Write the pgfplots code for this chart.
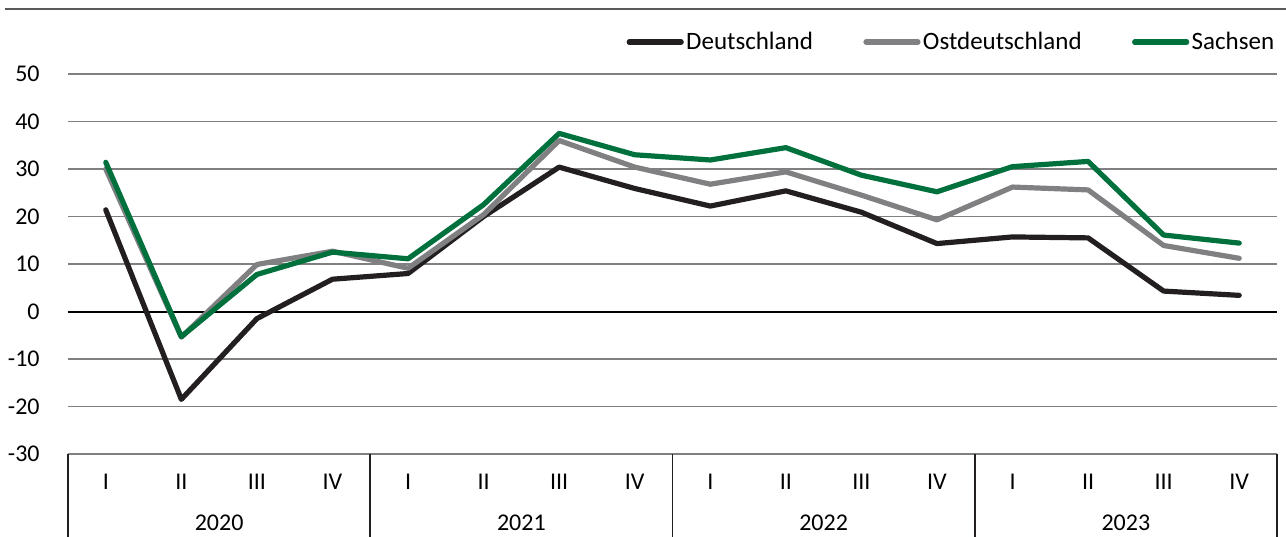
\documentclass[border=0pt]{standalone}
\usepackage{fontspec}
\setmainfont{Carlito}
\usepackage{pgfplots}
\usepackage{pgfplotstable}
\pgfplotsset{compat=1.18}
\definecolor{cD}{HTML}{231F20}
\definecolor{cO}{HTML}{808083}
\definecolor{cS}{HTML}{00703C}
\definecolor{gridc}{HTML}{808080}
\pgfplotstableread{
x D O S
0 21.4 30.0 31.4
1 -18.5 -5.4 -5.3
2 -1.5 9.9 7.8
3 6.8 12.7 12.5
4 8.0 9.1 11.1
5 20.0 20.4 22.5
6 30.4 36.0 37.5
7 25.9 30.4 33.0
8 22.2 26.8 31.9
9 25.4 29.4 34.5
10 20.9 24.5 28.7
11 14.3 19.3 25.2
12 15.7 26.2 30.5
13 15.5 25.6 31.6
14 4.3 13.9 16.1
15 3.4 11.2 14.4
}\datatable
\begin{document}
\begin{tikzpicture}
\begin{axis}[
  name=ax,
  scale only axis, width=604.5pt, height=190pt,
  xmin=-0.5, xmax=15.5, ymin=-30, ymax=50,
  ytick={-30,-20,...,50},
  yticklabels={-30,-20,-10,0,10,20,30,40,50},
  xtick={0,...,15},
  xticklabels={I,II,III,IV,I,II,III,IV,I,II,III,IV,I,II,III,IV},
  major tick length=0pt,
  ymajorgrids, grid style={gridc, line width=0.6pt},
  axis line style={draw=none},
  ticklabel style={font=\fontsize{12}{14}\selectfont},
  yticklabel style={anchor=east, inner sep=0pt, xshift=-14pt},
  xticklabel style={anchor=center, inner sep=0pt, yshift=-14pt},
  extra x ticks={1.5,5.5,9.5,13.5},
  extra x tick labels={2020,2021,2022,2023},
  extra x tick style={xticklabel style={yshift=-20.5pt}, major tick length=0pt},
  clip=false,
  legend columns=3,
  legend cell align=left,
  legend style={draw=none, fill=none, at={(1,1.084)}, anchor=east,
    font=\fontsize{12.5}{14}\selectfont, inner sep=0pt,
    nodes={inner sep=1.2pt},
    /tikz/every even column/.append style={column sep=24pt}},
  legend image code/.code={\draw[#1, line cap=round] (0pt,0pt) -- (26pt,0pt);},
  every axis plot/.append style={line width=2.6pt, line join=round, line cap=round},
]
\draw[black, line width=1pt] (axis cs:-0.5,0) -- (axis cs:15.5,0);
\pgfplotsinvokeforeach{-0.5,3.5,7.5,11.5,15.5}{
  \draw[cD, line width=0.8pt] (axis cs:#1,-30) -- ++(0pt,-45pt);
}
\addplot[cD] table[x=x, y=D] {\datatable};
\addlegendentry{Deutschland}
\addplot[cO] table[x=x, y=O] {\datatable};
\addlegendentry{Ostdeutschland}
\addplot[cS] table[x=x, y=S] {\datatable};
\addlegendentry{Sachsen}
\end{axis}
\draw[gray!70!black, line width=1pt] ([shift={(-31.5pt,222.5pt)}]ax.south west) -- ([shift={(609pt,222.5pt)}]ax.south west);
\pgfresetboundingbox
\path[use as bounding box] ([shift={(-34pt,-41pt)}]ax.south west) rectangle ([shift={(609pt,227pt)}]ax.south west);
\end{tikzpicture}
\end{document}
